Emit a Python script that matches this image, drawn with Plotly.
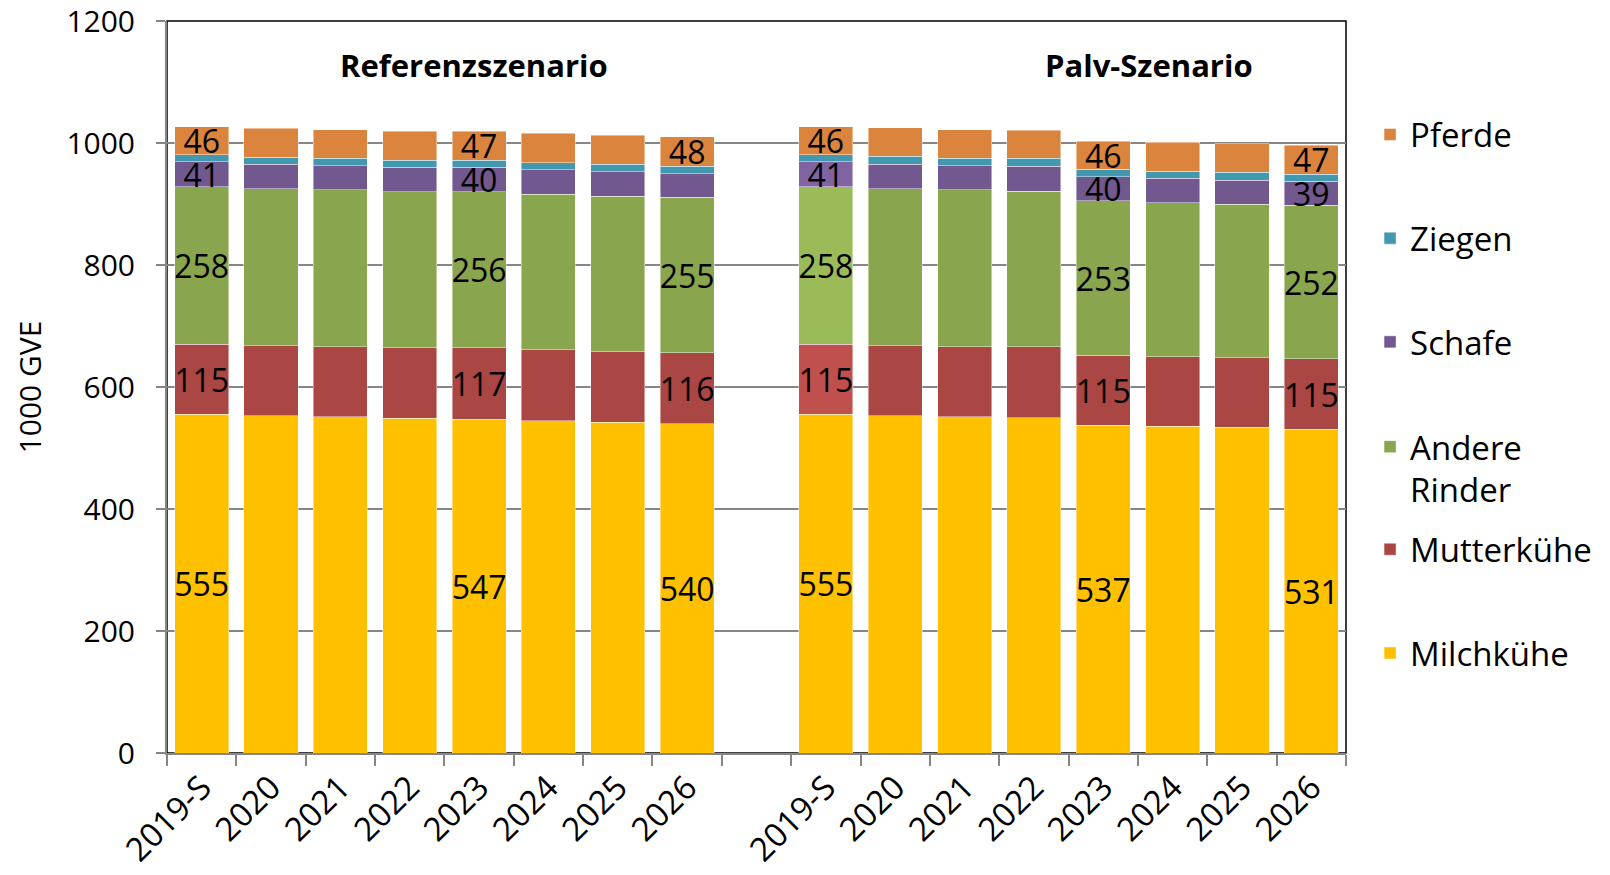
import plotly.graph_objects as go

# ---------------- data (1000 GVE) ----------------
years = ["2019-S", "2020", "2021", "2022", "2023", "2024", "2025", "2026"]
scenario_titles = ["Referenzszenario", "Palv-Szenario"]
series_names = ["Milchkühe", "Mutterkühe", "Andere<br>Rinder", "Schafe", "Ziegen", "Pferde"]

ref_milch = [555, 553, 551, 549, 547, 545, 542, 540]
ref_mutter = [115, 115, 115, 115, 117, 116, 116, 116]
ref_andere = [258, 257, 257, 256, 256, 255, 255, 255]
ref_schafe = [41, 40, 40, 40, 40, 40, 40, 39]
ref_ziegen = [12, 12, 12, 12, 12, 12, 12, 12]
ref_pferde = [46, 47, 47, 47, 47, 48, 48, 48]

palv_milch = [555, 553, 551, 550, 537, 536, 534, 531]
palv_mutter = [115, 115, 115, 116, 115, 114, 114, 115]
palv_andere = [258, 257, 257, 255, 253, 252, 252, 252]
palv_schafe = [41, 40, 40, 41, 40, 40, 39, 39]
palv_ziegen = [12, 13, 12, 13, 12, 12, 13, 12]
palv_pferde = [46, 47, 47, 46, 46, 47, 47, 47]

# indices of bars that carry a value label, per series
ref_labeled = [[0, 4, 7], [0, 4, 7], [0, 4, 7], [0, 4], [], [0, 4, 7]]
palv_labeled = [[0, 4, 7], [0, 4, 7], [0, 4, 7], [0, 4, 7], [], [0, 4, 7]]

# ---------------- styling ----------------
colors = ["#FFC000", "#AA4643", "#89A54E", "#71588F", "#4198AF", "#DB843D"]
highlight_colors = ["#FFC000", "#C0504D", "#9BBB59", "#8064A2", "#4198AF", "#DB843D"]
FONT = "Open Sans, Noto Sans, sans-serif"
GRAY = "#868686"
LABEL_SIZE = 32
TICK_SIZE = 33

ref_series = [ref_milch, ref_mutter, ref_andere, ref_schafe, ref_ziegen, ref_pferde]
palv_series = [palv_milch, palv_mutter, palv_andere, palv_schafe, palv_ziegen, palv_pferde]

# categories: reference years, an empty gap slot, Palv years (made unique with a zero-width space)
gap = " "
x_cats = years + [gap] + ["\u200b" + y for y in years]
highlight_idx = len(years) + 1  # first bar of Palv scenario is highlighted

# legend vertical positions (paper coords) for each series
legend_y = [0.1366, 0.2783, 0.3891, 0.5616, 0.7033, 0.8449]

fig = go.Figure()
for i, name in enumerate(series_names):
    yv = ref_series[i] + [None] + palv_series[i]
    txt = ([str(v) if j in ref_labeled[i] else "" for j, v in enumerate(ref_series[i])]
           + [""]
           + [str(v) if j in palv_labeled[i] else "" for j, v in enumerate(palv_series[i])])
    cols = [highlight_colors[i] if k == highlight_idx else colors[i] for k in range(len(x_cats))]
    leg = "legend" if i == 0 else f"legend{i + 1}"
    fig.add_trace(go.Bar(
        x=x_cats, y=yv, name=name, text=txt,
        textposition="inside", insidetextanchor="middle", textangle=0,
        textfont=dict(family=FONT, size=LABEL_SIZE, color="black"),
        marker=dict(color=cols, line=dict(color="rgba(255,255,255,0.55)", width=0.8)),
        legend=leg, showlegend=True, hoverinfo="x+y+name",
    ))

legends = {}
for i in range(len(series_names)):
    key = "legend" if i == 0 else f"legend{i + 1}"
    legends[key] = dict(
        x=1.0204, xanchor="left", y=legend_y[i], yanchor="middle",
        font=dict(family=FONT, size=TICK_SIZE, color="black"),
        bgcolor="rgba(0,0,0,0)", valign="top", itemclick=False, itemdoubleclick=False,
    )

fig.update_layout(
    width=1610, height=875,
    margin=dict(l=159, r=272, t=13, b=130, autoexpand=False),
    paper_bgcolor="white", plot_bgcolor="white",
    barmode="stack", bargap=0.22,
    font=dict(family=FONT, size=30, color="black"),
    uniformtext=dict(minsize=LABEL_SIZE, mode="show"),
    **legends,
)

fig.update_xaxes(
    type="category", categoryorder="array", categoryarray=x_cats,
    tickangle=-45, ticks="outside", tickson="boundaries", ticklen=11, tickcolor=GRAY, tickwidth=1.5,
    showline=True, linecolor=GRAY, linewidth=2, showgrid=False, automargin=False,
    tickfont=dict(family=FONT, size=TICK_SIZE, color="black"),
)
fig.update_yaxes(
    range=[0, 1200], dtick=200, tick0=0, automargin=False,
    showgrid=True, gridcolor=GRAY, gridwidth=1.5,
    ticks="outside", ticklen=9, tickcolor=GRAY, tickwidth=1.5,
    ticklabelstandoff=15, ticklabeloverflow="allow",
    showline=True, linecolor=GRAY, linewidth=2, zeroline=False,
    tickfont=dict(family=FONT, size=30, color="black"),
    title=dict(text="1000 GVE", font=dict(family=FONT, size=30, color="black"), standoff=16),
)

# black frame on top/right of plot area
fig.add_shape(type="rect", xref="paper", yref="paper", x0=0, x1=1, y0=0, y1=1,
              line=dict(color="black", width=1.5), layer="below")

# scenario titles
for t, xp in zip(scenario_titles, [0.2604, 0.8329]):
    fig.add_annotation(text=f"<b>{t}</b>", xref="paper", yref="paper", x=xp, y=0.9403,
                       showarrow=False, xanchor="center", yanchor="middle",
                       font=dict(family=FONT, size=31, color="black"))

fig.write_html("out.html")
